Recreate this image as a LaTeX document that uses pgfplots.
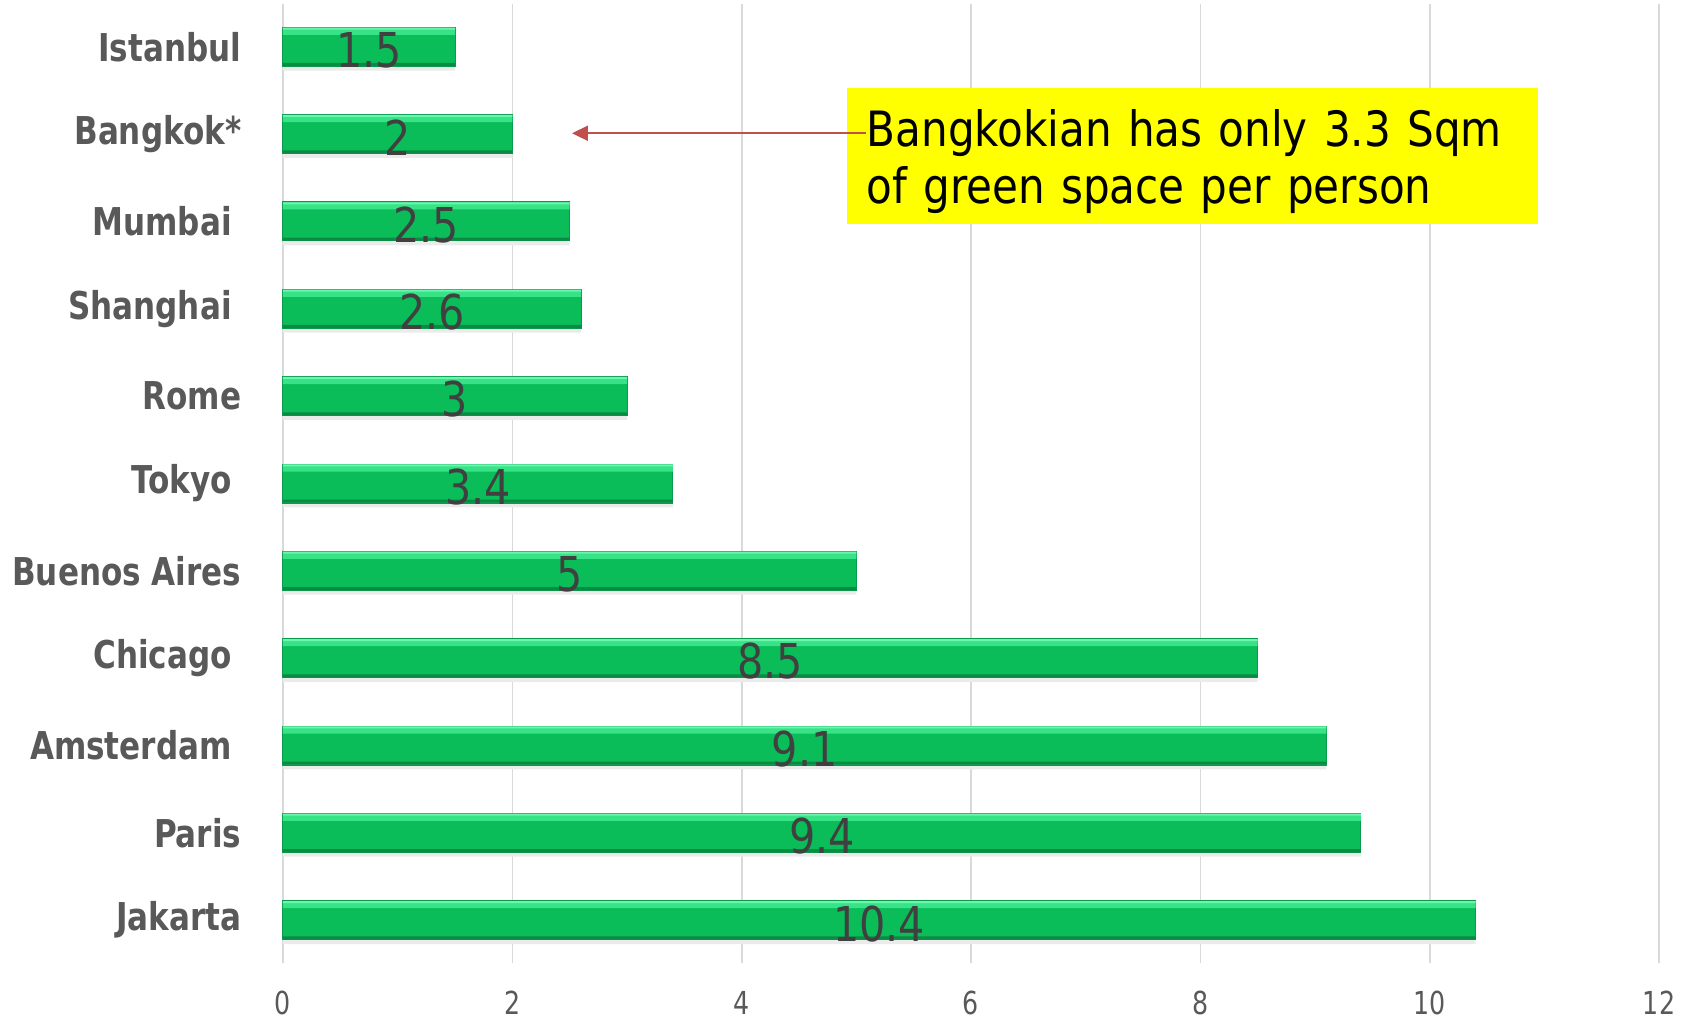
\documentclass[border=0pt]{standalone}
\usepackage{pgfplots}
\pgfplotsset{compat=1.18}
\usepackage{pgfplotstable}
\usetikzlibrary{arrows.meta}
\usepackage{fontspec}
\setmainfont{DejaVu Sans}
\newfontfamily\labfont[FakeStretch=0.81]{DejaVu Sans}
\newfontfamily\numfont[FakeStretch=0.86]{DejaVu Sans}
\newfontfamily\tickfont[FakeStretch=0.8]{DejaVu Sans}
\newfontfamily\annfont[FakeStretch=0.865]{DejaVu Sans}
\definecolor{gmain}{HTML}{0ABD58}
\definecolor{glight}{HTML}{38E388}
\definecolor{gtop}{HTML}{6CF5AC}
\definecolor{gdark}{HTML}{0A8A45}
\definecolor{gedge}{HTML}{0A9A4C}
\definecolor{labgray}{HTML}{595959}
\definecolor{numgray}{HTML}{404040}
\definecolor{gridgray}{HTML}{D9D9D9}
\definecolor{arrowred}{HTML}{C0504D}
\definecolor{boxyellow}{HTML}{FFFF00}
\pgfplotstableread{
y v
0 10.4
1 9.4
2 9.1
3 8.5
4 5
5 3.4
6 3
7 2.6
8 2.5
9 2
10 1.5
}\datatable
\begin{document}
\begin{tikzpicture}
\useasboundingbox (-84.9pt,-16.8pt) rectangle (422.7pt,288.9pt);
\begin{axis}[
 at={(0pt,0pt)}, anchor=south west,
 scale only axis, width=412.8pt, height=287.7pt,
 xmin=0, xmax=12, ymin=-0.49, ymax=10.49,
 xtick={0,2,...,12}, ytick={0,...,10},
 yticklabels={Jakarta, Paris, Amsterdam\rule{2.9pt}{0pt}, Chicago\rule{2.9pt}{0pt}, Buenos Aires, Tokyo\rule{2.9pt}{0pt}, Rome, Shanghai\rule{2.9pt}{0pt}, Mumbai\rule{2.9pt}{0pt}, Bangkok*, Istanbul},
 axis line style={draw=none}, major tick style={draw=none},
 xmajorgrids, grid style={gridgray, line width=0.5pt},
 yticklabel style={font=\labfont\bfseries\fontsize{11.5pt}{13pt}\selectfont, text=labgray, anchor=east, inner sep=0pt, xshift=-12.3pt},
 xticklabel style={font=\tickfont\fontsize{9.5pt}{11pt}\selectfont, text=labgray, anchor=north, inner sep=0pt, yshift=-8.3pt},
 /pgf/number format/assume math mode=true,
 clip=false,
]
% soft shadow
\addplot[xbar, bar width=11.7pt, bar shift=-1.3pt, fill=black!8, draw=none, forget plot] table[x=v,y=y]{\datatable};
% bar body
\addplot[xbar, bar width=11.7pt, bar shift=0pt, fill=gmain, draw=gedge, line width=0.3pt] table[x=v,y=y]{\datatable};
% light upper band
\addplot[xbar, bar width=2.1pt, bar shift=4.65pt, fill=glight, draw=none, forget plot] table[x=v,y=y]{\datatable};
\addplot[xbar, bar width=0.6pt, bar shift=5.45pt, fill=gtop, draw=none, forget plot] table[x=v,y=y]{\datatable};
% dark lower band
\addplot[xbar, bar width=0.9pt, bar shift=-5.3pt, fill=gdark, draw=none, forget plot] table[x=v,y=y]{\datatable};
% value labels
\addplot[draw=none, mark=none, nodes near coords, point meta=explicit symbolic,
  nodes near coords style={font=\numfont\fontsize{14.4pt}{16pt}\selectfont, text=numgray, anchor=center, yshift=-1pt}]
  table[x expr=\thisrow{v}/2, y=y, meta=v]{\datatable};
\node[fill=boxyellow, anchor=north west, inner xsep=6pt, inner ysep=0pt, text width=195.3pt, align=left,
  font=\annfont\fontsize{14.6pt}{17.1pt}\selectfont, minimum height=40.8pt]
  at (axis cs:4.91,9.54) {\rule{0pt}{17.7pt}Bangkokian has only 3.3 Sqm\\of green space per person\rule[-6pt]{0pt}{6pt}};
\draw[arrowred, line width=0.6pt, -{Triangle[length=4.8pt,width=4.5pt]}] (axis cs:5.08,9.01) -- (axis cs:2.52,9.01);
\end{axis}
\end{tikzpicture}
\end{document}
